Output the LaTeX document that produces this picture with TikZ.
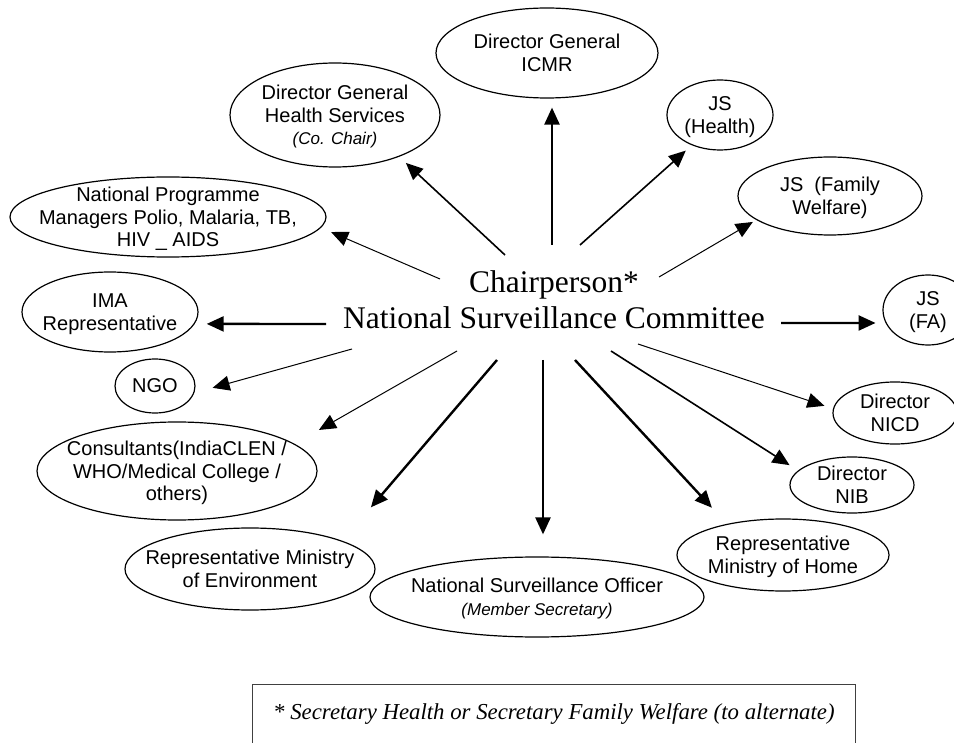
\documentclass[tikz,border=0pt]{standalone}
\usepackage{fontspec}
\setmainfont{Liberation Serif}
\newfontfamily\arialfont{Liberation Sans}
\usepackage{tikz}
\usetikzlibrary{arrows.meta,shapes.geometric}
\newcommand{\ovalfont}{\arialfont\fontsize{20}{22.5}\selectfont}
\newcommand{\subline}[1]{{\fontsize{17}{21}\selectfont\itshape #1}}

% ellipse size comes from minimum width/height only
\tikzset{
  oval/.style={ellipse,draw,line width=1.2pt,inner sep=-60pt,text depth=0pt,align=center,font=\ovalfont},
  heavy/.style={->,line width=2.4pt},
  medium/.style={->,line width=1.6pt},
  light/.style={->,line width=1pt}
}

\begin{document}
\begin{tikzpicture}[x=1pt,y=-1pt,>={Triangle[length=17pt,width=15pt]}]
\useasboundingbox (0,0) rectangle (954,743);

\node[align=center,font=\fontsize{31.5}{36}\selectfont] (chair) at (554,300)
  {Chairperson*\\National Surveillance Committee};

\node[oval,minimum width=222,minimum height=90] (icmr) at (547,53) {Director General\\ICMR};
\node[oval,minimum width=210,minimum height=104] (dghs) at (335,115) {Director General\\Health Services\\\subline{(Co. Chair)}};
\node[oval,minimum width=316,minimum height=80] (npm) at (168,217) {National Programme\\Managers Polio, Malaria, TB,\\HIV \_ AIDS};
\node[oval,minimum width=176,minimum height=80] (ima) at (110,312) {IMA\\Representative};
\node[oval,minimum width=80,minimum height=54] (ngo) at (155,386) {NGO};
\node[oval,minimum width=280,minimum height=98] (cons) at (177,471) {Consultants(IndiaCLEN /\\WHO/Medical College /\\others)};
\node[oval,minimum width=250,minimum height=82] (env) at (250,569) {Representative Ministry\\of Environment};
\node[oval,minimum width=334,minimum height=80] (nso) at (537,597) {National Surveillance Officer\\\subline{(Member Secretary)}};
\node[oval,minimum width=212,minimum height=72] (home) at (783,555) {Representative\\Ministry of Home};
\node[oval,minimum width=124,minimum height=56] (nib) at (852,485) {Director\\NIB};
\node[oval,minimum width=124,minimum height=62] (nicd) at (895,413) {Director\\NICD};
\node[oval,minimum width=90,minimum height=70] (jsfa) at (928,310) {JS\\(FA)};
\node[oval,minimum width=184,minimum height=78] (jsfw) at (830,196) {JS~ (Family\\Welfare)};
\node[oval,minimum width=106,minimum height=70] (jsh) at (720,115) {JS\\(Health)};

% arrow starts round the chair
\coordinate (s-icmr) at (552,245);
\coordinate (s-jsh) at (580,245);
\coordinate (s-jsfw) at (659,277);
\coordinate (s-dghs) at (505,255);
\coordinate (s-npm) at (440,279);
\coordinate (s-ima) at (326,324);
\coordinate (s-jsfa) at (781,323);
\coordinate (s-ngo) at (352,349);
\coordinate (s-cons) at (457,351);
\coordinate (s-env) at (497,360);
\coordinate (s-nso) at (543,360);
\coordinate (s-home) at (575,360);
\coordinate (s-nib) at (611,351);
\coordinate (s-nicd) at (638,344);

\draw[heavy,shorten >=9pt] (s-icmr) -- (s-icmr |- icmr.south);
\draw[medium,shorten >=8pt] (s-jsh) -- (jsh.227);
\draw[light,shorten >=4pt] (s-jsfw) -- (jsfw.198);
\draw[medium,shorten >=9pt] (s-dghs) -- (dghs.327);
\draw[light,shorten >=11pt] (s-npm) -- (npm.356);
\draw[heavy,shorten >=12pt] (s-ima) -- (ima.352);
\draw[heavy,shorten >=10pt] (s-jsfa) -- (jsfa.197);
\draw[light,shorten >=19pt] (s-ngo) -- (ngo.350);
\draw[light,shorten >=28pt] (s-cons) -- (cons.13);
\draw[heavy,shorten >=44pt] (s-env) -- (env.17);
\draw[heavy,shorten >=22pt] (s-nso) -- (s-nso |- nso.north);
\draw[heavy,shorten >=22pt] (s-home) -- (home.151);
\draw[medium,shorten >=10pt] (s-nib) -- (nib.165);
\draw[light,shorten >=9pt] (s-nicd) -- (nicd.176);

% footnote, box runs off the bottom
\node[draw=black!75,line width=0.9pt,anchor=north west,minimum width=603,
      inner xsep=15pt,inner ysep=15pt,text height=20pt,text depth=40pt,
      font=\fontsize{22.8}{26}\selectfont\itshape] (note) at (252,684)
  {* Secretary Health or Secretary Family Welfare (to alternate)};
\end{tikzpicture}
\end{document}
